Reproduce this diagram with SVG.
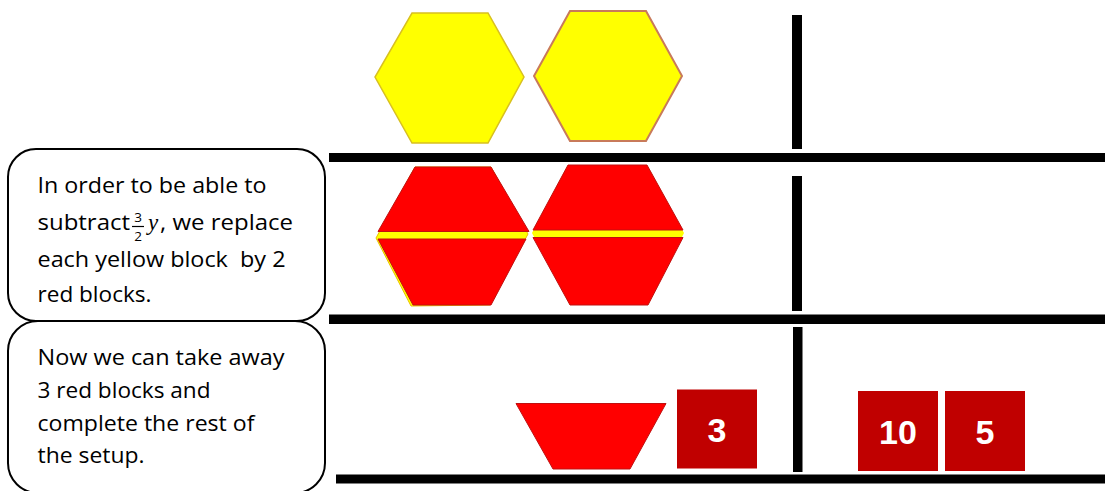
<svg xmlns="http://www.w3.org/2000/svg" width="1105" height="491" viewBox="0 0 1105 491">
<style>
.bar{fill:#000}
.box{fill:#fff;stroke:#000;stroke-width:2}
.t{font-family:"Open Sans","Liberation Sans",sans-serif;font-size:22.5px;fill:#000}
.f{font-family:"Open Sans","Liberation Sans",sans-serif;font-size:13.5px;fill:#000;text-anchor:middle}
.yel{fill:#ffff00;stroke:#d8c020;stroke-width:1.5}
.yel2{fill:#ffff00;stroke:#c87a5a;stroke-width:2}
.red{fill:#ff0000;stroke:#c01010;stroke-width:1}
.sq{fill:#c00000}
.n{font-family:"Liberation Sans",Arial,sans-serif;font-weight:bold;font-size:34px;fill:#fff;text-anchor:middle}
</style>
<rect width="1105" height="491" fill="#fff"/>
<g id="lines">
<rect class="bar" x="329" y="153" width="776" height="9"/>
<rect class="bar" x="329" y="314.5" width="776" height="9.5"/>
<rect class="bar" x="336" y="474.5" width="769" height="9"/>
<rect class="bar" x="792" y="15" width="10" height="134"/>
<rect class="bar" x="792" y="176" width="10" height="135"/>
<rect class="bar" x="793" y="327" width="9.5" height="145"/>
</g>
<g id="yellow-hexagons">
<polygon class="yel" points="412,13 488,13 524,77 488,143 412,143 375,77"/>
<polygon class="yel2" points="570,11 646,11 682,76 646,141 570,141 534,76"/>
</g>
<g id="red-hexagon-1">
<polygon fill="#ffff00" stroke="#e8c000" stroke-width="1" points="415,167 491,167 528,234 490,305 411,306 376,238"/>
<polygon class="red" points="415,167 491,167 529,231.5 378,231.5"/>
<polygon class="red" points="378,239 526,239 491,305 413,305"/>
</g>
<g id="red-hexagon-2">
<polygon fill="#ffff00" points="568,165 647,165 684,233 648,305 570,305 532,233"/>
<polygon class="red" points="568,165 647,165 683,230 533,230"/>
<polygon class="red" stroke="#ff40a0" points="533,237.5 683,237.5 648,305 570,305"/>
</g>
<g id="trapezoid">
<polygon class="red" points="516,403.5 666,403.5 630,469 553,469"/>
</g>
<g id="square-3">
<rect class="sq" x="677" y="389.5" width="80" height="79"/>
<text class="n" x="717" y="442">3</text>
</g>
<g id="square-10">
<rect class="sq" x="858" y="391" width="80" height="80"/>
<text class="n" x="898" y="443.5">10</text>
</g>
<g id="square-5">
<rect class="sq" x="945" y="391" width="80" height="80"/>
<text class="n" x="985" y="443.5">5</text>
</g>
<g id="callout-1">
<rect class="box" x="8" y="149" width="317" height="172" rx="28" ry="28"/>
<text class="t" x="37.5" y="193" textLength="229" lengthAdjust="spacingAndGlyphs">In order to be able to</text>
<text class="t" x="37.5" y="230" textLength="92.5" lengthAdjust="spacingAndGlyphs">subtract</text>
<text class="f" x="138" y="222">3</text>
<line x1="132" y1="226.5" x2="144" y2="226.5" stroke="#000" stroke-width="1.2"/>
<text class="f" x="138" y="241">2</text>
<text x="148" y="230" font-family="Liberation Serif,serif" font-style="italic" font-size="23">y</text>
<text class="t" x="160" y="230" textLength="133" lengthAdjust="spacingAndGlyphs">, we replace</text>
<text class="t" x="37.5" y="267" xml:space="preserve" textLength="248" lengthAdjust="spacingAndGlyphs">each yellow block  by 2</text>
<text class="t" x="37.5" y="302" textLength="114" lengthAdjust="spacingAndGlyphs">red blocks.</text>
</g>
<g id="callout-2">
<rect class="box" x="8" y="321" width="317" height="172" rx="30" ry="30"/>
<text class="t" x="37.5" y="365" textLength="247" lengthAdjust="spacingAndGlyphs">Now we can take away</text>
<text class="t" x="37.5" y="398" textLength="173" lengthAdjust="spacingAndGlyphs">3 red blocks and</text>
<text class="t" x="37.5" y="431" textLength="217" lengthAdjust="spacingAndGlyphs">complete the rest of</text>
<text class="t" x="37.5" y="463" textLength="107" lengthAdjust="spacingAndGlyphs">the setup.</text>
</g>
</svg>
